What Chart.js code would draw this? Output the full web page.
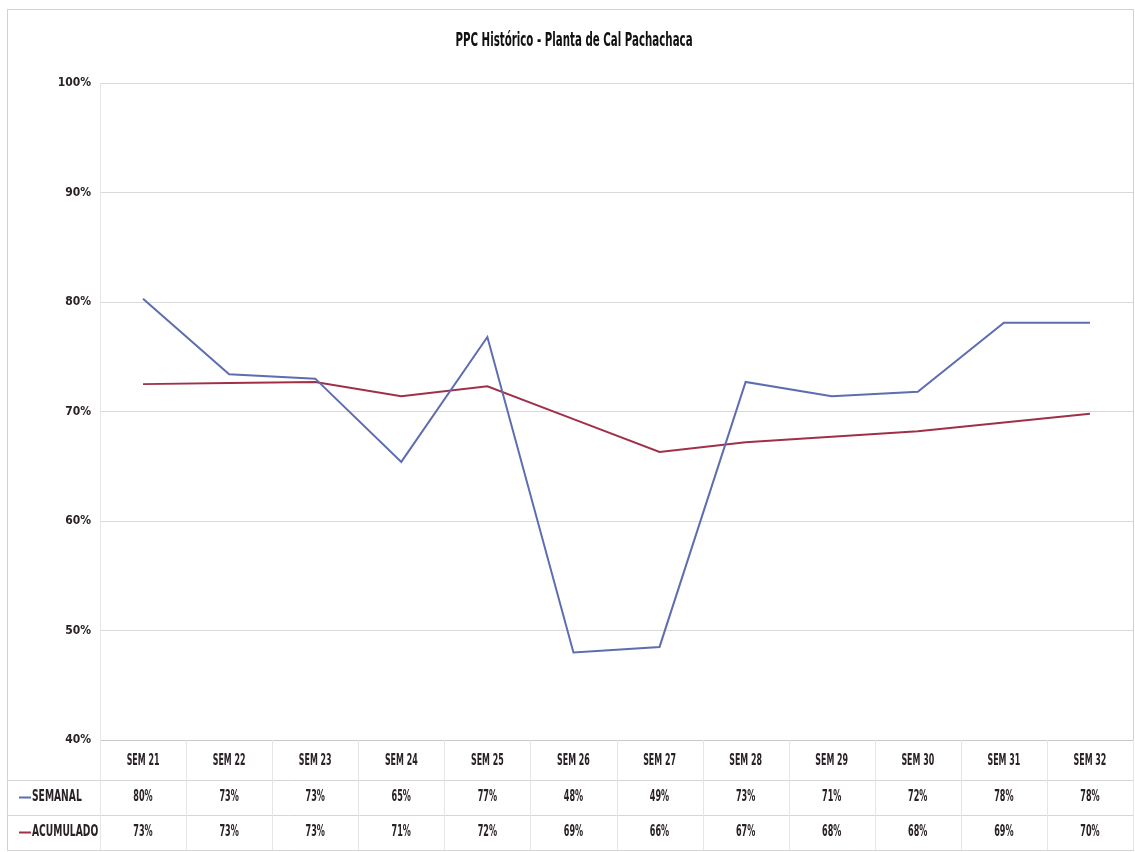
<!DOCTYPE html>
<html>
<head>
<meta charset="utf-8">
<script src="https://cdn.jsdelivr.net/npm/chart.js@4.4.1/dist/chart.umd.min.js"></script>
<style>
  html, body { margin: 0; padding: 0; background: #ffffff; }
  #wrap { width: 1135px; height: 852px; }
</style>
</head>
<body>
<div id="wrap"><canvas id="c" width="1135" height="852"></canvas></div>
<script>
// Weekly PPC (percent of plan completed) and its running average
const weeks = ['SEM 21', 'SEM 22', 'SEM 23', 'SEM 24', 'SEM 25', 'SEM 26',
               'SEM 27', 'SEM 28', 'SEM 29', 'SEM 30', 'SEM 31', 'SEM 32'];
const semanal = [80.3, 73.4, 73.0, 65.4, 76.8, 48.0, 48.5, 72.7, 71.4, 71.8, 78.1, 78.1];
const acumulado = [72.5, 72.6, 72.7, 71.4, 72.3, 69.3, 66.3, 67.2, 67.7, 68.2, 69.0, 69.8];
const seriesNames = ['SEMANAL', 'ACUMULADO'];
const yMin = 40, yMax = 100, yStep = 10;
const titleText = 'PPC Histórico - Planta de Cal Pachachaca';

const FONT = "'DejaVu Sans Condensed', 'Liberation Sans', sans-serif";
const TEXT = '#2a2127';
const GRID = '#d9d9d9';
const BLUE = '#5d6db0';
const RED = '#a03048';

// draw text squeezed horizontally (narrow face)
function narrowText(ctx, text, x, y, font, sx, align) {
  ctx.save();
  ctx.font = font;
  ctx.textAlign = align;
  ctx.textBaseline = 'middle';
  ctx.translate(x, y);
  ctx.scale(sx, 1);
  ctx.fillText(text, 0, 0);
  ctx.restore();
}

// Title, outer frame, category labels and the data table under the plot
const tablePlugin = {
  id: 'dataTable',
  afterDraw(chart) {
    const ctx = chart.ctx;
    const x = chart.scales.x;
    const area = chart.chartArea;
    const n = weeks.length;
    const colW = (area.right - area.left) / n;
    const rowTop = area.bottom + 40;
    const rowH = 35;
    const frameL = 7, frameR = 1133, frameT = 9, frameB = 850;

    ctx.save();
    // outer frame
    ctx.strokeStyle = '#d2d2d2';
    ctx.lineWidth = 1;
    ctx.strokeRect(frameL + 0.5, frameT + 0.5, frameR - frameL, frameB - frameT);

    // title
    ctx.fillStyle = '#121012';
    narrowText(ctx, titleText, 574, 41, "bold 19px " + FONT, 0.6, 'center');

    // table grid
    ctx.strokeStyle = '#d6d6d6';
    ctx.beginPath();
    for (let r = 0; r <= 2; r++) {
      const y = Math.round(rowTop + r * rowH) + 0.5;
      ctx.moveTo(frameL, y);
      ctx.lineTo(frameR, y);
    }
    ctx.stroke();
    ctx.strokeStyle = '#e6e6e6';
    ctx.beginPath();
    for (let c = 0; c <= n; c++) {
      const xx = Math.round(area.left + c * colW) + 0.5;
      ctx.moveTo(xx, area.bottom);
      ctx.lineTo(xx, rowTop + 2 * rowH);
    }
    ctx.stroke();

    // category labels from the x scale
    ctx.fillStyle = TEXT;
    x.getLabels().forEach((lab, i) => {
      narrowText(ctx, lab, x.getPixelForValue(i), area.bottom + 21, "bold 16px " + FONT, 0.55, 'center');
    });

    // rows: legend key, series name, rounded values
    const rows = [[semanal, BLUE], [acumulado, RED]];
    rows.forEach(([vals, col], r) => {
      const cy = rowTop + r * rowH + rowH / 2;
      ctx.strokeStyle = col;
      ctx.lineWidth = 2;
      ctx.beginPath();
      ctx.moveTo(19, cy);
      ctx.lineTo(31, cy);
      ctx.stroke();
      ctx.fillStyle = TEXT;
      narrowText(ctx, seriesNames[r], 32, cy, "bold 15px " + FONT, 0.68, 'left');
      vals.forEach((v, i) => {
        narrowText(ctx, Math.round(v) + '%', x.getPixelForValue(i), cy, "bold 15px " + FONT, 0.6, 'center');
      });
    });
    ctx.restore();
  }
};

new Chart(document.getElementById('c'), {
  type: 'line',
  data: {
    labels: weeks,
    datasets: [
      { label: seriesNames[0], data: semanal, borderColor: BLUE, borderWidth: 2,
        pointRadius: 0, tension: 0, fill: false },
      { label: seriesNames[1], data: acumulado, borderColor: RED, borderWidth: 2,
        pointRadius: 0, tension: 0, fill: false }
    ]
  },
  options: {
    responsive: false,
    animation: false,
    devicePixelRatio: 1,
    layout: { padding: { top: 83, bottom: 72, left: 0, right: 2 } },
    plugins: {
      legend: { display: false },
      title: { display: false },
      tooltip: { enabled: false }
    },
    scales: {
      x: {
        offset: true,
        grid: { display: false, drawTicks: false },
        border: { display: true, color: '#c8c8c8' },
        ticks: { display: false },
        afterFit(s) { s.height = 40; }
      },
      y: {
        min: yMin,
        max: yMax,
        grid: { color: GRID, drawTicks: false },
        border: { display: true, color: '#e6e6e6' },
        ticks: {
          stepSize: yStep,
          color: TEXT,
          padding: 9,
          font: { family: FONT, size: 12, weight: 'bold' },
          callback: v => v + '%'
        },
        afterFit(s) { s.width = 100; }
      }
    }
  },
  plugins: [tablePlugin]
});
</script>
</body>
</html>
